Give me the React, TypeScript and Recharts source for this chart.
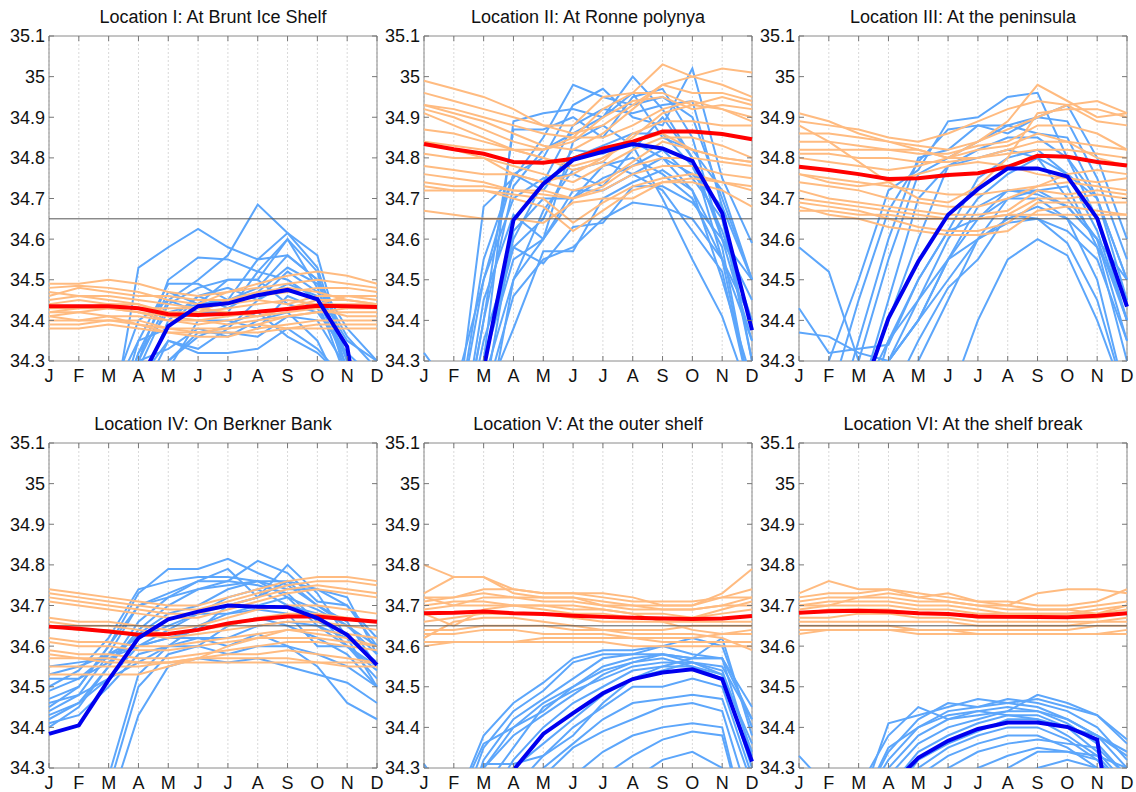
import { CartesianGrid, Line, LineChart, ReferenceArea, ReferenceLine, XAxis, YAxis } from "recharts";

const MONTHS = ["J", "F", "M", "A", "M", "J", "J", "A", "S", "O", "N", "D"];
const Y_TICKS = [34.3, 34.4, 34.5, 34.6, 34.7, 34.8, 34.9, 35.0, 35.1];
const Y_LABELS = ["34.3", "34.4", "34.5", "34.6", "34.7", "34.8", "34.9", "35", "35.1"];
const THRESHOLD = 34.65;

const TITLES = [
  "Location I: At Brunt Ice Shelf",
  "Location II: At Ronne polynya",
  "Location III: At the peninsula",
  "Location IV: On Berkner Bank",
  "Location V: At the outer shelf",
  "Location VI: At the shelf break",
];

// Location I
const bruntRed = [34.435, 34.435, 34.435, 34.43, 34.415, 34.413, 34.416, 34.421, 34.428, 34.436, 34.435, 34.433];
const bruntBlue = [33.9, 34.0, 34.1, 34.245, 34.386, 34.435, 34.442, 34.462, 34.475, 34.452, 34.335, 33.9];
const bruntBlueRuns = [
  [34.0, 34.0, 34.1, 34.53, 34.58, 34.625, 34.58, 34.55, 34.615, 34.56, 34.3, 34.1],
  [33.9, 34.0, 34.1, 34.3, 34.45, 34.5, 34.56, 34.685, 34.615, 34.53, 34.3, 34.1],
  [33.9, 34.0, 34.15, 34.3, 34.5, 34.555, 34.55, 34.52, 34.6, 34.52, 34.25, 34.0],
  [34.0, 34.1, 34.2, 34.35, 34.49, 34.49, 34.45, 34.55, 34.56, 34.5, 34.28, 34.0],
  [34.0, 34.0, 34.1, 34.32, 34.47, 34.44, 34.5, 34.5, 34.6, 34.48, 34.3, 34.1],
  [34.1, 34.1, 34.2, 34.4, 34.45, 34.42, 34.42, 34.52, 34.5, 34.45, 34.25, 34.1],
  [33.9, 34.0, 34.1, 34.3, 34.33, 34.38, 34.36, 34.4, 34.42, 34.35, 34.2, 34.0],
  [33.9, 34.0, 34.1, 34.25, 34.35, 34.32, 34.32, 34.33, 34.38, 34.33, 34.25, 34.1],
  [34.0, 34.0, 34.1, 34.35, 34.38, 34.46, 34.48, 34.45, 34.52, 34.47, 34.35, 34.3],
  [33.9, 34.0, 34.1, 34.2, 34.28, 34.4, 34.4, 34.38, 34.46, 34.43, 34.31, 34.2],
  [33.9, 34.0, 34.1, 34.2, 34.3, 34.36, 34.39, 34.42, 34.36, 34.32, 34.25, 34.1],
  [34.0, 34.0, 34.1, 34.32, 34.42, 34.44, 34.45, 34.48, 34.56, 34.5, 34.38, 34.3],
  [33.9, 34.0, 34.1, 34.28, 34.44, 34.48, 34.5, 34.5, 34.44, 34.42, 34.32, 34.25],
  [33.9, 34.0, 34.1, 34.2, 34.35, 34.33, 34.38, 34.45, 34.49, 34.46, 34.28, 34.1],
  [33.9, 34.0, 34.1, 34.2, 34.3, 34.37, 34.37, 34.36, 34.41, 34.4, 34.28, 34.1],
  [33.9, 34.0, 34.1, 34.22, 34.4, 34.46, 34.43, 34.47, 34.53, 34.49, 34.36, 34.28],
];
const bruntOrangeRuns = [
  [34.49, 34.49, 34.5, 34.49, 34.47, 34.46, 34.47, 34.49, 34.51, 34.52, 34.51, 34.49],
  [34.48, 34.485, 34.48, 34.47, 34.45, 34.44, 34.47, 34.48, 34.49, 34.5, 34.49, 34.48],
  [34.46, 34.48, 34.47, 34.46, 34.46, 34.45, 34.45, 34.46, 34.47, 34.48, 34.48, 34.47],
  [34.45, 34.46, 34.46, 34.45, 34.44, 34.43, 34.44, 34.45, 34.44, 34.46, 34.46, 34.45],
  [34.44, 34.45, 34.44, 34.44, 34.42, 34.42, 34.43, 34.44, 34.45, 34.44, 34.44, 34.44],
  [34.43, 34.43, 34.43, 34.42, 34.41, 34.4, 34.41, 34.42, 34.43, 34.45, 34.45, 34.44],
  [34.42, 34.42, 34.41, 34.41, 34.4, 34.4, 34.39, 34.4, 34.41, 34.42, 34.43, 34.43],
  [34.41, 34.4, 34.4, 34.4, 34.38, 34.37, 34.38, 34.39, 34.41, 34.42, 34.42, 34.42],
  [34.4, 34.4, 34.41, 34.39, 34.37, 34.36, 34.36, 34.38, 34.39, 34.4, 34.4, 34.4],
  [34.39, 34.39, 34.4, 34.39, 34.38, 34.38, 34.38, 34.39, 34.38, 34.39, 34.39, 34.39],
  [34.38, 34.38, 34.39, 34.38, 34.37, 34.37, 34.37, 34.37, 34.38, 34.38, 34.38, 34.38],
  [34.47, 34.46, 34.45, 34.44, 34.41, 34.42, 34.45, 34.47, 34.48, 34.47, 34.45, 34.44],
  [34.42, 34.43, 34.44, 34.43, 34.43, 34.43, 34.42, 34.41, 34.42, 34.43, 34.41, 34.41],
  [34.41, 34.42, 34.43, 34.42, 34.4, 34.39, 34.4, 34.41, 34.43, 34.44, 34.46, 34.46],
];

// Location II
const ronneRed = [34.834, 34.821, 34.81, 34.79, 34.788, 34.798, 34.823, 34.84, 34.865, 34.865, 34.859, 34.846];
const ronneBlue = [34.0, 34.0, 34.28, 34.647, 34.736, 34.795, 34.815, 34.834, 34.823, 34.792, 34.664, 34.376];
const ronneBlueRuns = [
  [33.9, 34.0, 34.3, 34.89, 34.91, 34.92, 34.9, 35.0, 34.92, 34.8, 34.6, 34.45],
  [34.0, 34.1, 34.68, 34.75, 34.85, 34.98, 34.95, 34.93, 34.95, 34.9, 34.7, 34.5],
  [34.32, 34.22, 34.5, 34.76, 34.8, 34.93, 34.97, 34.9, 34.88, 35.02, 34.75, 34.59],
  [33.9, 34.0, 34.4, 34.87, 34.87, 34.9, 34.85, 34.95, 34.97, 34.85, 34.6, 34.35],
  [33.9, 34.0, 34.3, 34.55, 34.6, 34.84, 34.88, 34.83, 34.7, 34.55, 34.41, 34.2],
  [33.8, 34.0, 34.2, 34.62, 34.7, 34.7, 34.78, 34.8, 34.76, 34.7, 34.55, 34.2],
  [33.8, 33.9, 34.2, 34.46, 34.55, 34.58, 34.65, 34.69, 34.68, 34.65, 34.55, 34.4],
  [33.8, 34.0, 34.35, 34.58, 34.54, 34.63, 34.64, 34.73, 34.73, 34.69, 34.6, 34.5],
  [33.9, 34.0, 34.45, 34.66, 34.6, 34.7, 34.75, 34.78, 34.82, 34.75, 34.65, 34.3],
  [33.9, 34.0, 34.25, 34.5, 34.6, 34.72, 34.72, 34.76, 34.8, 34.72, 34.5, 34.25],
  [33.9, 34.1, 34.5, 34.7, 34.75, 34.76, 34.73, 34.82, 34.9, 34.8, 34.55, 34.35],
  [33.8, 34.0, 34.3, 34.58, 34.65, 34.8, 34.83, 34.86, 34.86, 34.78, 34.62, 34.4],
  [33.9, 34.0, 34.4, 34.73, 34.82, 34.86, 34.9, 34.96, 34.85, 34.82, 34.72, 34.5],
  [33.8, 33.9, 34.2, 34.38, 34.57, 34.57, 34.7, 34.74, 34.77, 34.72, 34.58, 34.2],
  [33.9, 34.1, 34.55, 34.76, 34.72, 34.82, 34.81, 34.84, 34.8, 34.76, 34.68, 34.5],
  [33.9, 34.0, 34.3, 34.6, 34.74, 34.88, 34.92, 34.91, 34.93, 34.94, 34.68, 34.3],
  [33.8, 33.9, 34.1, 34.5, 34.67, 34.77, 34.79, 34.76, 34.72, 34.62, 34.52, 34.2],
];
const ronneOrangeRuns = [
  [34.99, 34.97, 34.95, 34.92, 34.88, 34.86, 34.88, 34.93, 34.98, 35.0, 35.02, 35.01],
  [34.96, 34.94, 34.92, 34.9, 34.88, 34.88, 34.95, 34.96, 35.03, 35.0, 34.98, 34.95],
  [34.93, 34.91, 34.89, 34.86, 34.83, 34.82, 34.86, 34.92, 34.98, 34.96, 34.96, 34.94],
  [34.92, 34.9, 34.87, 34.84, 34.82, 34.84, 34.9, 34.94, 34.95, 34.92, 34.93, 34.92],
  [34.91, 34.88, 34.85, 34.82, 34.8, 34.78, 34.8, 34.85, 34.91, 34.93, 34.95, 34.93],
  [34.87, 34.86, 34.84, 34.82, 34.8, 34.77, 34.79, 34.86, 34.89, 34.89, 34.88, 34.88],
  [34.84, 34.83, 34.82, 34.82, 34.82, 34.85, 34.92, 34.96, 34.96, 34.93, 34.92, 34.9],
  [34.81, 34.8, 34.8, 34.78, 34.76, 34.74, 34.78, 34.82, 34.85, 34.85, 34.83, 34.8],
  [34.78, 34.77, 34.76, 34.76, 34.74, 34.72, 34.74, 34.79, 34.84, 34.82, 34.8, 34.79],
  [34.76, 34.75, 34.74, 34.72, 34.71, 34.7, 34.73, 34.78, 34.8, 34.8, 34.79, 34.78],
  [34.74, 34.73, 34.73, 34.72, 34.72, 34.7, 34.72, 34.76, 34.78, 34.78, 34.76, 34.75],
  [34.73, 34.72, 34.72, 34.71, 34.7, 34.64, 34.69, 34.73, 34.75, 34.76, 34.74, 34.73],
  [34.72, 34.72, 34.72, 34.7, 34.68, 34.62, 34.67, 34.72, 34.74, 34.75, 34.74, 34.72],
  [34.67, 34.66, 34.65, 34.65, 34.64, 34.69, 34.7, 34.7, 34.74, 34.74, 34.72, 34.68],
  [34.84, 34.82, 34.8, 34.76, 34.74, 34.76, 34.8, 34.84, 34.86, 34.82, 34.8, 34.79],
  [34.93, 34.92, 34.9, 34.88, 34.86, 34.85, 34.85, 34.88, 34.92, 34.94, 34.92, 34.89],
];

// Location III
const peninsulaRed = [34.778, 34.77, 34.76, 34.748, 34.75, 34.758, 34.762, 34.778, 34.805, 34.803, 34.79, 34.781];
const peninsulaBlue = [33.9, 34.0, 34.195, 34.405, 34.545, 34.66, 34.723, 34.774, 34.774, 34.754, 34.651, 34.434];
const peninsulaBlueRuns = [
  [34.58, 34.52, 34.3, 34.1, 34.0, 34.2, 34.4, 34.55, 34.6, 34.56, 34.4, 34.2],
  [34.43, 34.32, 34.33, 34.34, 34.5, 34.62, 34.65, 34.7, 34.7, 34.65, 34.58, 34.45],
  [34.37, 34.36, 34.32, 34.3, 34.4, 34.55, 34.6, 34.7, 34.72, 34.68, 34.6, 34.5],
  [34.2, 34.3, 34.5, 34.72, 34.77, 34.89, 34.9, 34.95, 34.96, 34.8, 34.7, 34.5],
  [34.1, 34.2, 34.45, 34.67, 34.79, 34.87, 34.88, 34.88, 34.9, 34.89, 34.75, 34.55],
  [34.0, 34.1, 34.35, 34.6, 34.8, 34.82, 34.88, 34.86, 34.9, 34.93, 34.8, 34.6],
  [34.0, 34.1, 34.3, 34.55, 34.76, 34.8, 34.84, 34.88, 34.86, 34.85, 34.7, 34.45],
  [33.9, 34.0, 34.2, 34.45, 34.7, 34.78, 34.82, 34.85, 34.85, 34.8, 34.65, 34.4],
  [33.9, 34.0, 34.2, 34.4, 34.6, 34.78, 34.8, 34.82, 34.8, 34.7, 34.6, 34.35],
  [33.9, 34.0, 34.1, 34.35, 34.5, 34.62, 34.75, 34.8, 34.82, 34.76, 34.62, 34.4],
  [33.8, 34.0, 34.1, 34.3, 34.45, 34.55, 34.68, 34.72, 34.72, 34.73, 34.58, 34.3],
  [33.8, 33.9, 34.1, 34.3, 34.4, 34.5, 34.6, 34.65, 34.68, 34.65, 34.5, 34.2],
  [33.8, 33.9, 34.0, 34.2, 34.35, 34.48, 34.55, 34.66, 34.65, 34.59, 34.45, 34.2],
  [33.8, 33.9, 34.0, 34.2, 34.3, 34.45, 34.6, 34.64, 34.65, 34.62, 34.55, 34.35],
  [33.9, 34.0, 34.1, 34.3, 34.4, 34.55, 34.65, 34.72, 34.71, 34.68, 34.6, 34.4],
  [33.9, 34.0, 34.2, 34.35, 34.45, 34.6, 34.7, 34.76, 34.8, 34.76, 34.7, 34.5],
];
const peninsulaOrangeRuns = [
  [34.91, 34.89, 34.86, 34.84, 34.82, 34.8, 34.84, 34.89, 34.98, 34.94, 34.9, 34.91],
  [34.89, 34.88, 34.87, 34.85, 34.84, 34.86, 34.89, 34.92, 34.94, 34.93, 34.94, 34.91],
  [34.88, 34.84, 34.79, 34.74, 34.7, 34.69, 34.73, 34.8, 34.91, 34.92, 34.92, 34.9],
  [34.86, 34.86, 34.85, 34.84, 34.83, 34.82, 34.84, 34.87, 34.9, 34.93, 34.89, 34.88],
  [34.84, 34.84, 34.83, 34.82, 34.81, 34.81, 34.83, 34.84, 34.88, 34.88, 34.86, 34.82],
  [34.82, 34.82, 34.82, 34.82, 34.82, 34.8, 34.8, 34.82, 34.84, 34.84, 34.83, 34.82],
  [34.81, 34.81, 34.8, 34.8, 34.79, 34.79, 34.8, 34.81, 34.82, 34.82, 34.81, 34.8],
  [34.76, 34.75, 34.74, 34.73, 34.72, 34.71, 34.71, 34.72, 34.73, 34.76, 34.77, 34.76],
  [34.74, 34.73, 34.72, 34.7, 34.69, 34.68, 34.68, 34.7, 34.73, 34.74, 34.73, 34.72],
  [34.72, 34.7, 34.69, 34.68, 34.67, 34.66, 34.66, 34.67, 34.72, 34.71, 34.72, 34.71],
  [34.7, 34.69, 34.68, 34.67, 34.66, 34.65, 34.65, 34.66, 34.7, 34.7, 34.71, 34.7],
  [34.69, 34.68, 34.67, 34.65, 34.63, 34.62, 34.62, 34.64, 34.69, 34.69, 34.69, 34.69],
  [34.68, 34.66, 34.65, 34.63, 34.62, 34.61, 34.61, 34.62, 34.67, 34.68, 34.67, 34.66],
  [34.8, 34.79, 34.78, 34.77, 34.78, 34.8, 34.82, 34.83, 34.86, 34.84, 34.8, 34.78],
  [34.76, 34.74, 34.73, 34.74, 34.76, 34.78, 34.79, 34.78, 34.76, 34.75, 34.74, 34.75],
  [34.67, 34.67, 34.66, 34.66, 34.65, 34.65, 34.65, 34.66, 34.66, 34.66, 34.66, 34.66],
];

// Location IV
const berknerRed = [34.648, 34.643, 34.636, 34.628, 34.63, 34.64, 34.656, 34.666, 34.673, 34.673, 34.666, 34.66];
const berknerBlue = [34.384, 34.405, 34.517, 34.62, 34.666, 34.685, 34.7, 34.697, 34.696, 34.669, 34.628, 34.554];
const berknerBlueRuns = [
  [34.5, 34.54, 34.62, 34.74, 34.76, 34.77, 34.77, 34.76, 34.72, 34.69, 34.65, 34.6],
  [34.47, 34.5, 34.6, 34.73, 34.79, 34.79, 34.815, 34.78, 34.75, 34.7, 34.66, 34.55],
  [34.44, 34.48, 34.58, 34.7, 34.73, 34.76, 34.79, 34.72, 34.8, 34.73, 34.62, 34.5],
  [34.42, 34.46, 34.55, 34.66, 34.72, 34.76, 34.76, 34.81, 34.78, 34.71, 34.7, 34.6],
  [34.4, 34.45, 34.55, 34.64, 34.7, 34.74, 34.75, 34.76, 34.74, 34.74, 34.72, 34.58],
  [34.53, 34.55, 34.58, 34.62, 34.65, 34.68, 34.72, 34.74, 34.7, 34.68, 34.6, 34.55],
  [34.55, 34.56, 34.57, 34.6, 34.62, 34.64, 34.7, 34.72, 34.76, 34.7, 34.65, 34.58],
  [34.46, 34.48, 34.52, 34.56, 34.6, 34.62, 34.62, 34.65, 34.66, 34.65, 34.62, 34.56],
  [34.41, 34.43, 34.5, 34.58, 34.6, 34.6, 34.58, 34.6, 34.6, 34.58, 34.55, 34.5],
  [34.43, 34.46, 34.52, 34.6, 34.64, 34.68, 34.68, 34.69, 34.68, 34.6, 34.6, 34.52],
  [34.0, 34.1, 34.28, 34.53, 34.6, 34.65, 34.68, 34.7, 34.72, 34.65, 34.6, 34.54],
  [34.0, 34.1, 34.25, 34.5, 34.58, 34.6, 34.65, 34.67, 34.65, 34.62, 34.58, 34.5],
  [33.9, 34.0, 34.2, 34.43, 34.55, 34.57, 34.56, 34.57, 34.55, 34.53, 34.51, 34.46],
  [34.52, 34.52, 34.58, 34.6, 34.62, 34.62, 34.6, 34.63, 34.6, 34.55, 34.46, 34.42],
  [34.49, 34.52, 34.56, 34.63, 34.68, 34.7, 34.74, 34.76, 34.76, 34.74, 34.7, 34.62],
  [34.45, 34.5, 34.6, 34.7, 34.72, 34.74, 34.76, 34.75, 34.73, 34.66, 34.63, 34.55],
];
const berknerOrangeRuns = [
  [34.74, 34.73, 34.72, 34.71, 34.7, 34.7, 34.72, 34.74, 34.76, 34.77, 34.77, 34.76],
  [34.73, 34.72, 34.71, 34.7, 34.69, 34.69, 34.71, 34.73, 34.75, 34.76, 34.76, 34.75],
  [34.72, 34.71, 34.7, 34.69, 34.68, 34.68, 34.7, 34.72, 34.74, 34.75, 34.74, 34.73],
  [34.71, 34.7, 34.69, 34.68, 34.67, 34.67, 34.69, 34.71, 34.73, 34.74, 34.73, 34.72],
  [34.67, 34.66, 34.66, 34.65, 34.64, 34.65, 34.67, 34.69, 34.7, 34.7, 34.69, 34.68],
  [34.66, 34.65, 34.65, 34.64, 34.63, 34.64, 34.65, 34.67, 34.68, 34.68, 34.67, 34.66],
  [34.65, 34.64, 34.64, 34.63, 34.62, 34.63, 34.64, 34.65, 34.66, 34.66, 34.65, 34.64],
  [34.62, 34.61, 34.61, 34.6, 34.6, 34.61, 34.62, 34.63, 34.64, 34.64, 34.63, 34.62],
  [34.61, 34.6, 34.6, 34.59, 34.59, 34.6, 34.61, 34.62, 34.62, 34.62, 34.61, 34.6],
  [34.59, 34.58, 34.58, 34.57, 34.57, 34.58, 34.59, 34.6, 34.61, 34.61, 34.6, 34.59],
  [34.58, 34.57, 34.57, 34.56, 34.56, 34.57, 34.58, 34.58, 34.59, 34.58, 34.57, 34.56],
  [34.57, 34.57, 34.56, 34.56, 34.56, 34.57, 34.57, 34.57, 34.57, 34.56, 34.55, 34.55],
  [34.55, 34.55, 34.55, 34.55, 34.56, 34.56, 34.56, 34.56, 34.56, 34.56, 34.56, 34.56],
  [34.53, 34.53, 34.53, 34.53, 34.55, 34.57, 34.6, 34.62, 34.64, 34.63, 34.62, 34.6],
];

// Location V
const outerRed = [34.681, 34.682, 34.685, 34.681, 34.679, 34.675, 34.672, 34.67, 34.668, 34.667, 34.668, 34.674];
const outerBlue = [34.0, 34.1, 34.2, 34.295, 34.384, 34.435, 34.484, 34.519, 34.535, 34.543, 34.519, 34.316];
const outerBlueRuns = [
  [34.1, 34.2, 34.38, 34.46, 34.51, 34.57, 34.59, 34.59, 34.6, 34.58, 34.57, 34.45],
  [34.0, 34.15, 34.35, 34.44, 34.49, 34.56, 34.58, 34.58, 34.58, 34.56, 34.55, 34.42],
  [34.0, 34.1, 34.32, 34.42, 34.47, 34.52, 34.57, 34.58, 34.6, 34.62, 34.6, 34.4],
  [33.9, 34.1, 34.3, 34.4, 34.46, 34.5, 34.55, 34.57, 34.58, 34.57, 34.62, 34.38],
  [34.31, 34.2, 34.3, 34.38, 34.43, 34.48, 34.53, 34.56, 34.57, 34.55, 34.53, 34.36],
  [33.9, 34.0, 34.25, 34.35, 34.45, 34.49, 34.52, 34.55, 34.56, 34.56, 34.54, 34.34],
  [33.9, 34.0, 34.2, 34.32, 34.4, 34.46, 34.5, 34.54, 34.55, 34.55, 34.52, 34.32],
  [33.9, 34.0, 34.15, 34.3, 34.36, 34.42, 34.48, 34.52, 34.54, 34.56, 34.53, 34.3],
  [33.8, 34.0, 34.1, 34.25, 34.33, 34.4, 34.45, 34.5, 34.5, 34.52, 34.5, 34.28],
  [33.8, 33.9, 34.0, 34.2, 34.3, 34.36, 34.42, 34.46, 34.47, 34.48, 34.47, 34.26],
  [33.8, 33.9, 34.0, 34.2, 34.28, 34.35, 34.39, 34.42, 34.45, 34.46, 34.44, 34.2],
  [33.7, 33.8, 33.9, 34.1, 34.2, 34.28, 34.34, 34.38, 34.4, 34.41, 34.4, 34.1],
  [33.7, 33.8, 33.9, 34.0, 34.1, 34.2, 34.28, 34.33, 34.37, 34.39, 34.38, 34.1],
  [33.6, 33.7, 33.8, 33.9, 34.0, 34.1, 34.2, 34.27, 34.32, 34.34, 34.3, 34.1],
  [33.9, 34.1, 34.31, 34.31, 34.33, 34.38, 34.46, 34.52, 34.55, 34.57, 34.57, 34.33],
  [34.0, 34.2, 34.36, 34.4, 34.44, 34.5, 34.54, 34.56, 34.58, 34.57, 34.57, 34.42],
];
const outerOrangeRuns = [
  [34.8, 34.77, 34.77, 34.74, 34.73, 34.73, 34.72, 34.71, 34.71, 34.71, 34.72, 34.74],
  [34.73, 34.77, 34.77, 34.73, 34.72, 34.72, 34.71, 34.7, 34.7, 34.7, 34.73, 34.79],
  [34.72, 34.72, 34.74, 34.74, 34.73, 34.73, 34.73, 34.72, 34.7, 34.7, 34.72, 34.72],
  [34.72, 34.7, 34.72, 34.72, 34.72, 34.72, 34.7, 34.69, 34.69, 34.69, 34.7, 34.7],
  [34.7, 34.71, 34.71, 34.7, 34.7, 34.7, 34.69, 34.68, 34.68, 34.67, 34.69, 34.71],
  [34.69, 34.7, 34.7, 34.7, 34.69, 34.68, 34.68, 34.67, 34.67, 34.67, 34.68, 34.69],
  [34.66, 34.67, 34.68, 34.68, 34.68, 34.67, 34.66, 34.66, 34.66, 34.66, 34.66, 34.66],
  [34.64, 34.64, 34.65, 34.65, 34.65, 34.64, 34.64, 34.64, 34.64, 34.65, 34.65, 34.65],
  [34.63, 34.63, 34.64, 34.64, 34.63, 34.63, 34.63, 34.62, 34.62, 34.62, 34.63, 34.64],
  [34.61, 34.61, 34.61, 34.61, 34.62, 34.62, 34.62, 34.62, 34.61, 34.61, 34.61, 34.61],
  [34.6, 34.61, 34.61, 34.61, 34.61, 34.61, 34.61, 34.6, 34.6, 34.6, 34.6, 34.6],
  [34.62, 34.66, 34.67, 34.67, 34.66, 34.65, 34.64, 34.63, 34.63, 34.63, 34.62, 34.59],
  [34.71, 34.72, 34.73, 34.72, 34.71, 34.71, 34.7, 34.7, 34.69, 34.69, 34.7, 34.72],
  [34.68, 34.65, 34.69, 34.7, 34.7, 34.69, 34.69, 34.68, 34.66, 34.64, 34.63, 34.63],
];

// Location VI
const breakRed = [34.682, 34.686, 34.687, 34.685, 34.681, 34.679, 34.673, 34.672, 34.672, 34.671, 34.675, 34.681];
const breakBlue = [33.9, 34.0, 34.1, 34.25, 34.325, 34.367, 34.396, 34.412, 34.412, 34.401, 34.37, 33.9];
const breakBlueRuns = [
  [34.33, 34.25, 34.2, 34.41, 34.43, 34.45, 34.47, 34.46, 34.45, 34.42, 34.38, 34.33],
  [34.0, 34.1, 34.25, 34.38, 34.45, 34.42, 34.43, 34.44, 34.48, 34.46, 34.43, 34.37],
  [34.0, 34.1, 34.2, 34.34, 34.42, 34.46, 34.45, 34.46, 34.47, 34.45, 34.43, 34.36],
  [33.9, 34.0, 34.2, 34.32, 34.4, 34.44, 34.45, 34.47, 34.46, 34.44, 34.4, 34.32],
  [33.9, 34.0, 34.15, 34.3, 34.38, 34.42, 34.44, 34.45, 34.44, 34.42, 34.38, 34.3],
  [33.9, 34.0, 34.1, 34.28, 34.36, 34.4, 34.42, 34.44, 34.44, 34.41, 34.36, 34.28],
  [33.8, 34.0, 34.1, 34.25, 34.34, 34.38, 34.41, 34.43, 34.43, 34.4, 34.34, 34.26],
  [33.8, 33.9, 34.1, 34.22, 34.32, 34.36, 34.39, 34.42, 34.42, 34.38, 34.33, 34.25],
  [33.8, 33.9, 34.0, 34.2, 34.3, 34.35, 34.38, 34.4, 34.4, 34.37, 34.32, 34.22],
  [33.8, 33.9, 34.0, 34.18, 34.28, 34.33, 34.36, 34.38, 34.38, 34.35, 34.3, 34.2],
  [33.7, 33.8, 34.0, 34.15, 34.25, 34.3, 34.34, 34.36, 34.37, 34.36, 34.35, 34.28],
  [33.7, 33.8, 33.9, 34.1, 34.2, 34.26, 34.3, 34.33, 34.35, 34.34, 34.32, 34.25],
  [33.7, 33.8, 33.9, 34.0, 34.1, 34.2, 34.25, 34.3, 34.34, 34.34, 34.33, 34.3],
  [33.6, 33.7, 33.8, 33.9, 34.0, 34.1, 34.2, 34.27, 34.3, 34.32, 34.3, 34.2],
  [33.8, 34.0, 34.2, 34.35, 34.4, 34.43, 34.44, 34.43, 34.42, 34.4, 34.38, 34.34],
];
const breakOrangeRuns = [
  [34.73, 34.76, 34.74, 34.74, 34.72, 34.73, 34.71, 34.7, 34.73, 34.74, 34.74, 34.73],
  [34.72, 34.73, 34.73, 34.74, 34.73, 34.72, 34.71, 34.71, 34.7, 34.7, 34.71, 34.74],
  [34.71, 34.72, 34.72, 34.72, 34.71, 34.71, 34.7, 34.69, 34.69, 34.69, 34.7, 34.71],
  [34.7, 34.71, 34.71, 34.71, 34.7, 34.7, 34.69, 34.68, 34.68, 34.68, 34.69, 34.7],
  [34.69, 34.7, 34.7, 34.7, 34.69, 34.69, 34.68, 34.68, 34.68, 34.68, 34.68, 34.69],
  [34.68, 34.69, 34.69, 34.69, 34.68, 34.68, 34.67, 34.67, 34.67, 34.67, 34.67, 34.68],
  [34.67, 34.67, 34.68, 34.68, 34.67, 34.67, 34.66, 34.66, 34.66, 34.66, 34.66, 34.67],
  [34.66, 34.66, 34.66, 34.66, 34.66, 34.66, 34.65, 34.65, 34.65, 34.65, 34.66, 34.66],
  [34.65, 34.65, 34.65, 34.65, 34.64, 34.64, 34.64, 34.64, 34.64, 34.64, 34.65, 34.65],
  [34.64, 34.64, 34.64, 34.64, 34.64, 34.64, 34.63, 34.63, 34.63, 34.63, 34.63, 34.64],
  [34.63, 34.64, 34.64, 34.64, 34.63, 34.63, 34.63, 34.63, 34.63, 34.63, 34.63, 34.63],
  [34.7, 34.7, 34.72, 34.73, 34.72, 34.71, 34.7, 34.7, 34.69, 34.69, 34.68, 34.7],
];

const AXIS_W = 45;
const X_H = 30;
const MT = 10;
const MR = 10;
const PW = 328;
const PH = 325;
const FONT = "'Liberation Sans', Arial, sans-serif";

const panels = [
  { title: TITLES[0], left: 49, top: 36, red: bruntRed, blue: bruntBlue, blues: bruntBlueRuns, oranges: bruntOrangeRuns },
  { title: TITLES[1], left: 424, top: 36, red: ronneRed, blue: ronneBlue, blues: ronneBlueRuns, oranges: ronneOrangeRuns },
  { title: TITLES[2], left: 799, top: 36, red: peninsulaRed, blue: peninsulaBlue, blues: peninsulaBlueRuns, oranges: peninsulaOrangeRuns },
  { title: TITLES[3], left: 49, top: 443, red: berknerRed, blue: berknerBlue, blues: berknerBlueRuns, oranges: berknerOrangeRuns },
  { title: TITLES[4], left: 424, top: 443, red: outerRed, blue: outerBlue, blues: outerBlueRuns, oranges: outerOrangeRuns },
  { title: TITLES[5], left: 799, top: 443, red: breakRed, blue: breakBlue, blues: breakBlueRuns, oranges: breakOrangeRuns },
];

function XTick(props: any) {
  const { x, payload } = props;
  return (
    <g>
      <line x1={x} x2={x} y1={MT + PH} y2={MT + PH - 5} stroke="#777" />
      <line x1={x} x2={x} y1={MT} y2={MT + 5} stroke="#777" />
      <text x={x} y={MT + PH + 21} textAnchor="middle" fontSize={18} fill="#111">
        {MONTHS[payload.value]}
      </text>
    </g>
  );
}

function YTick(props: any) {
  const { y, payload, index } = props;
  return (
    <g>
      <line x1={AXIS_W} x2={AXIS_W + 5} y1={y} y2={y} stroke="#777" />
      <line x1={AXIS_W + PW - 5} x2={AXIS_W + PW} y1={y} y2={y} stroke="#777" />
      <text x={AXIS_W - 4} y={y} dy="0.36em" textAnchor="end" fontSize={18} fill="#111">
        {Y_LABELS[index] ?? String(payload.value)}
      </text>
    </g>
  );
}

function Panel({ p }: { p: (typeof panels)[number] }) {
  const data = MONTHS.map((_, i) => {
    const row: Record<string, number> = { idx: i, red: p.red[i], blue: p.blue[i] };
    p.blues.forEach((r, k) => (row[`b${k}`] = r[i]));
    p.oranges.forEach((r, k) => (row[`o${k}`] = r[i]));
    return row;
  });

  return (
    <div style={{ position: "absolute", left: p.left - AXIS_W, top: p.top - MT }}>
      <div
        style={{
          position: "absolute",
          left: AXIS_W,
          width: PW,
          top: -19,
          textAlign: "center",
          fontSize: 18,
          lineHeight: "20px",
          whiteSpace: "nowrap",
          color: "#111",
        }}
      >
        {p.title}
      </div>
      <LineChart
        width={AXIS_W + PW + MR}
        height={MT + PH + X_H}
        data={data}
        margin={{ top: MT, right: MR, bottom: 0, left: 0 }}
      >
        <CartesianGrid horizontal={false} stroke="#d9d9d9" strokeDasharray="2 2" />
        <XAxis
          dataKey="idx"
          type="category"
          height={X_H}
          interval={0}
          axisLine={false}
          tickLine={false}
          tick={(t: any) => <XTick {...t} />}
        />
        <YAxis
          type="number"
          domain={[34.3, 35.1]}
          ticks={Y_TICKS}
          allowDataOverflow
          width={AXIS_W}
          axisLine={false}
          tickLine={false}
          tick={(t: any) => <YTick {...t} />}
        />
        {p.blues.map((_, k) => (
          <Line
            key={`b${k}`}
            dataKey={`b${k}`}
            stroke="#5ca6fb"
            strokeWidth={2}
            dot={false}
            activeDot={false}
            isAnimationActive={false}
          />
        ))}
        {p.oranges.map((_, k) => (
          <Line
            key={`o${k}`}
            dataKey={`o${k}`}
            stroke="#ffbb80"
            strokeWidth={2}
            dot={false}
            activeDot={false}
            isAnimationActive={false}
          />
        ))}
        <ReferenceLine y={THRESHOLD} stroke="#555" strokeWidth={1} />
        <Line dataKey="red" stroke="#ff0000" strokeWidth={4} dot={false} activeDot={false} isAnimationActive={false} />
        <Line dataKey="blue" stroke="#0000ee" strokeWidth={4} dot={false} activeDot={false} isAnimationActive={false} />
        <ReferenceArea x1={0} x2={11} y1={34.3} y2={35.1} fill="none" stroke="#8a8a8a" strokeWidth={1} />
      </LineChart>
    </div>
  );
}

export default function App() {
  return (
    <div
      style={{
        position: "absolute",
        left: 0,
        top: 0,
        width: 1136,
        height: 792,
        overflow: "hidden",
        background: "#fff",
        fontFamily: FONT,
      }}
    >
      {panels.map((p) => (
        <Panel key={p.title} p={p} />
      ))}
    </div>
  );
}
